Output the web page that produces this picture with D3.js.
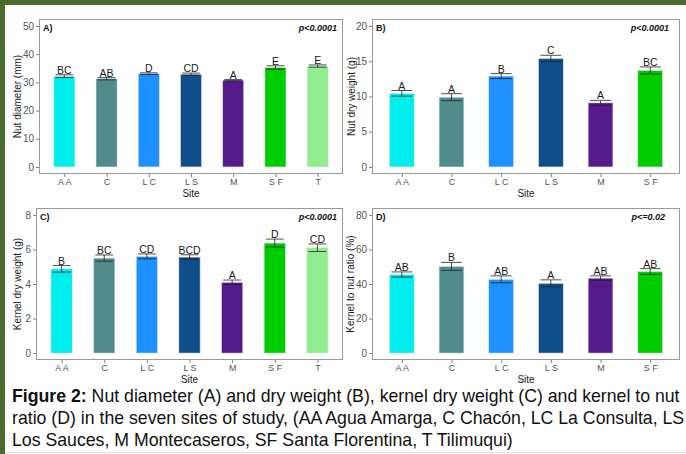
<!DOCTYPE html>
<html>
<head>
<meta charset="utf-8">
<script src="https://cdn.jsdelivr.net/npm/d3@7"></script>
<style>
  html, body { margin: 0; padding: 0; background: #fff; }
  svg { display: block; font-family: "Liberation Sans", Arial, sans-serif; }
</style>
</head>
<body>
<svg id="chart" width="686" height="454"></svg>
<script>
// ---- Data ----
const sites7 = ["A A", "C", "L C", "L S", "M", "S F", "T"];
const sites6 = ["A A", "C", "L C", "L S", "M", "S F"];
const siteColors = ["#00eeee", "#528b8b", "#1e90ff", "#104e8b", "#551a8b", "#00cd00", "#90ee90"];

const nutDiameter = [32.2, 31.3, 33.1, 32.9, 30.8, 35.3, 35.8];
const nutDiameterSE = [0.5, 0.4, 0.3, 0.4, 0.2, 0.6, 0.4];
const nutDiameterLetters = ["BC", "AB", "D", "CD", "A", "E", "E"];

const nutWeight = [10.45, 9.9, 12.9, 15.4, 9.1, 13.7];
const nutWeightSE = [0.4, 0.5, 0.35, 0.45, 0.35, 0.5];
const nutWeightLetters = ["A", "A", "B", "C", "A", "BC"];

const kernelWeight = [4.88, 5.5, 5.6, 5.56, 4.1, 6.37, 6.1];
const kernelWeightSE = [0.19, 0.18, 0.14, 0.13, 0.13, 0.23, 0.22];
const kernelWeightLetters = ["B", "BC", "CD", "BCD", "A", "D", "CD"];

const kernelRatio = [45.5, 50.2, 42.7, 40.4, 43.4, 47.2];
const kernelRatioSE = [1.5, 2.3, 2.0, 2.0, 1.3, 1.7];
const kernelRatioLetters = ["AB", "B", "AB", "A", "AB", "AB"];

const yTicksA = [0, 10, 20, 30, 40, 50];
const yTicksB = [0, 5, 10, 15, 20];
const yTicksC = [0, 2, 4, 6, 8];
const yTicksD = [0, 20, 40, 60, 80];

const captionLines = [
  [{t: "Figure 2:", b: true}, {t: " Nut diameter (A) and dry weight (B), kernel dry weight (C) and kernel to nut", b: false}],
  [{t: "ratio (D) in the seven sites of study, (AA Agua Amarga, C Chacón, LC La Consulta, LS", b: false}],
  [{t: "Los Sauces, M Montecaseros, SF Santa Florentina, T Tilimuqui)", b: false}]
];

// ---- Drawing ----
const svg = d3.select("#chart");

// frame
svg.append("rect").attr("x", 0).attr("y", 0).attr("width", 686).attr("height", 5).attr("fill", "#4b6b2c");
svg.append("rect").attr("x", 0).attr("y", 0).attr("width", 5).attr("height", 454).attr("fill", "#4b6b2c");
svg.append("line").attr("x1", 5).attr("x2", 686).attr("y1", 452.5).attr("y2", 452.5).attr("stroke", "#e0e0e0").attr("stroke-width", 1);

function panel(cfg) {
  const {x0, x1, y0, y1, cats, vals, se, letters, ymax, ticks, label, pval, pOff, ytitle, ytitleX, siteY} = cfg;
  const g = svg.append("g");
  const n = cats.length;
  const unitW = (x1 - x0) / (n - 1 + 1.2);
  const x = d3.scalePoint().domain(cats).range([x0 + 0.6 * unitW, x1 - 0.6 * unitW]);
  const exp = ymax * 0.05;
  const y = d3.scaleLinear().domain([-exp, ymax + exp]).range([y1, y0]);
  const bw = unitW * 0.5;

  // bars
  g.selectAll("rect.bar").data(cats).join("rect")
    .attr("class", "bar")
    .attr("x", d => x(d) - bw / 2)
    .attr("width", bw)
    .attr("y", (d, i) => y(vals[i]))
    .attr("height", (d, i) => y(0) - y(vals[i]))
    .attr("fill", (d, i) => siteColors[i])
    .attr("stroke", "#e6e6e6")
    .attr("stroke-width", 0.6);

  // error bars
  const capW = bw * 0.42;
  const eb = g.selectAll("g.eb").data(cats).join("g").attr("class", "eb")
    .attr("stroke", "#222").attr("stroke-width", 0.8);
  eb.append("line").attr("x1", d => x(d)).attr("x2", d => x(d))
    .attr("y1", (d, i) => y(vals[i] - se[i])).attr("y2", (d, i) => y(vals[i] + se[i]));
  eb.append("line").attr("x1", d => x(d) - capW).attr("x2", d => x(d) + capW)
    .attr("y1", (d, i) => y(vals[i] + se[i])).attr("y2", (d, i) => y(vals[i] + se[i]));
  eb.append("line").attr("x1", d => x(d) - capW).attr("x2", d => x(d) + capW)
    .attr("y1", (d, i) => y(vals[i] - se[i])).attr("y2", (d, i) => y(vals[i] - se[i]));

  // letters
  g.selectAll("text.let").data(cats).join("text")
    .attr("class", "let")
    .attr("x", d => x(d))
    .attr("y", (d, i) => y(vals[i] + se[i]) - 1)
    .attr("text-anchor", "middle")
    .attr("font-size", 10.5)
    .attr("fill", "#1a1a1a")
    .text((d, i) => letters[i]);

  // box
  g.append("rect").attr("x", x0 + 0.5).attr("y", y0 + 0.5).attr("width", x1 - x0 - 1).attr("height", y1 - y0 - 1)
    .attr("fill", "none").attr("stroke", "#9a9a9a").attr("stroke-width", 1);

  // y axis
  const ya = g.append("g").attr("transform", `translate(${x0},0)`)
    .call(d3.axisLeft(y).tickValues(ticks).tickSize(3).tickPadding(2));
  ya.select(".domain").remove();
  ya.selectAll("line").attr("stroke", "#7f7f7f");
  ya.selectAll("text").attr("fill", "#555").attr("font-size", 10).attr("font-family", "Liberation Sans, Arial, sans-serif");

  // x axis
  const xa = g.append("g").attr("transform", `translate(0,${y1})`)
    .call(d3.axisBottom(x).tickSize(3).tickPadding(2));
  xa.select(".domain").remove();
  xa.selectAll("line").attr("stroke", "#7f7f7f");
  xa.selectAll("text").attr("fill", "#555").attr("font-size", 9).attr("font-family", "Liberation Sans, Arial, sans-serif");

  // titles
  g.append("text").attr("x", (x0 + x1) / 2).attr("y", siteY).attr("text-anchor", "middle")
    .attr("font-size", 10).attr("fill", "#1a1a1a").text("Site");
  g.append("text").attr("transform", `translate(${ytitleX},${(y0 + y1) / 2}) rotate(-90)`)
    .attr("text-anchor", "middle").attr("font-size", 10).attr("fill", "#1a1a1a").text(ytitle);

  g.append("text").attr("x", x0 + 4).attr("y", y0 + 12).attr("font-size", 9).attr("font-weight", "bold")
    .attr("fill", "#111").text(label);
  g.append("text").attr("x", x1 - pOff).attr("y", y0 + 12).attr("text-anchor", "end").attr("font-size", 9)
    .attr("font-weight", "bold").attr("font-style", "italic").attr("fill", "#111").text(pval);
}

panel({x0: 39, x1: 343, y0: 19, y1: 174, cats: sites7, vals: nutDiameter, se: nutDiameterSE, letters: nutDiameterLetters,
  ymax: 50, ticks: yTicksA, label: "A)", pval: "p<0.0001", pOff: 6, ytitle: "Nut diameter (mm)", ytitleX: 21, siteY: 197});
panel({x0: 372, x1: 680, y0: 19, y1: 174, cats: sites6, vals: nutWeight, se: nutWeightSE, letters: nutWeightLetters,
  ymax: 20, ticks: yTicksB, label: "B)", pval: "p<0.0001", pOff: 11, ytitle: "Nut dry weight (g)", ytitleX: 355, siteY: 197});
panel({x0: 36, x1: 343, y0: 208, y1: 360, cats: sites7, vals: kernelWeight, se: kernelWeightSE, letters: kernelWeightLetters,
  ymax: 8, ticks: yTicksC, label: "C)", pval: "p<0.0001", pOff: 6, ytitle: "Kernel dry weight (g)", ytitleX: 21, siteY: 383});
panel({x0: 372, x1: 680, y0: 208, y1: 360, cats: sites6, vals: kernelRatio, se: kernelRatioSE, letters: kernelRatioLetters,
  ymax: 80, ticks: yTicksD, label: "D)", pval: "p<=0.02", pOff: 15, ytitle: "Kernel to nut ratio (%)", ytitleX: 354, siteY: 383});

// caption
const capG = svg.append("g");
const baseY = [402, 424, 446];
const texts = [];
captionLines.forEach((line, li) => {
  const t = capG.append("text").attr("x", 12).attr("y", baseY[li]).attr("font-size", 16).attr("fill", "#111");
  line.forEach(seg => t.append("tspan").attr("font-weight", seg.b ? "bold" : "normal").text(seg.t));
  texts.push(t);
});
// scale caption font so the first line spans the same width as the reference
const w0 = texts[0].node().getComputedTextLength();
const fs = 16 * 668 / w0;
texts.forEach(t => t.attr("font-size", fs));
</script>
</body>
</html>
